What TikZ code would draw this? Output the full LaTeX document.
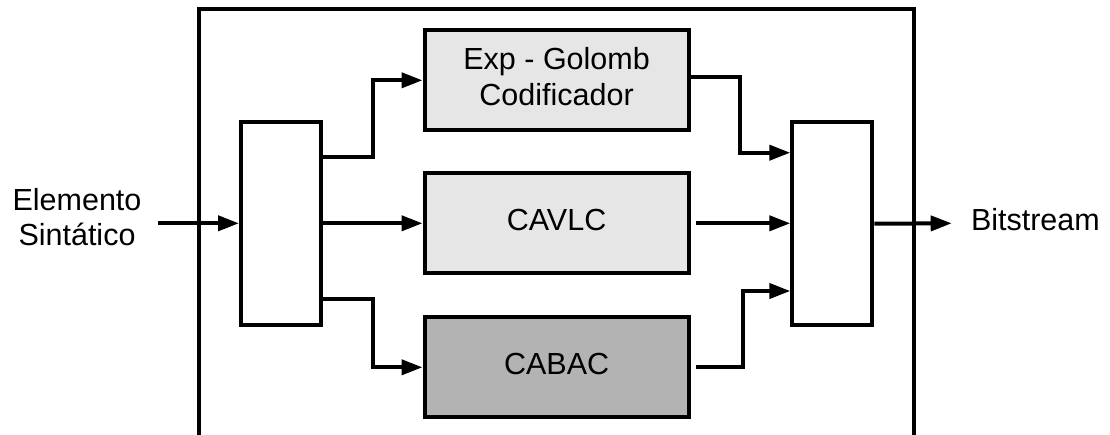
\documentclass[tikz,border=0pt]{standalone}
\usepackage{fontspec}
\setmainfont{Liberation Sans}
\usetikzlibrary{arrows.meta}

\definecolor{lightfill}{HTML}{E6E6E6}
\definecolor{darkfill}{HTML}{B3B3B3}

\begin{document}
\begin{tikzpicture}[x=1pt,y=-1pt,
  line width=4pt,
  txt/.style={font=\fontsize{30.5}{36.7}\selectfont, text depth=8pt, align=center, inner sep=0pt},
  oneline/.style={txt, text height=22pt},
  coder/.style={draw, minimum width=264.2pt, minimum height=100pt},
  muxbox/.style={draw, fill=white, minimum width=80pt, minimum height=203pt, inner sep=0pt},
  arr/.style={-{Triangle[length=21pt,width=15pt]}},
  frame/.style={draw, minimum width=714.4pt, minimum height=450.8pt, inner sep=0pt}
]
\useasboundingbox (0,0) rectangle (1110,434);
\clip (0,0) rectangle (1110,434);

% enclosing block (open at the bottom edge)
\node[frame] (frame) at (556.5,234.6) {};

% multiplexers
\node[muxbox] (muxin)  at (281,223.3) {};
\node[muxbox] (muxout) at (832.3,223.7) {};

% entropy coders
\node[coder, txt, fill=lightfill] (exp)   at (556.6,80.3)  {Exp - Golomb\\Codificador};
\node[coder, oneline, fill=lightfill] (cavlc) at (556.6,223.3) {CAVLC};
\node[coder, oneline, fill=darkfill]  (cabac) at (556.6,367.3) {CABAC};

% external labels
\node[txt, font=\fontsize{30.5}{35.3}\selectfont] (elem) at (77,221.2) {Elemento\\Sintático};
\node[oneline, anchor=west] (bits) at (969,223.3) {Bitstream};
\coordinate (src)  at (158.3,223.3);
\coordinate (sink) at (951.7,223.3);

% input and output
\draw[arr] (src) -- (muxin.west);
\draw[arr] (muxout.east) -- (sink);

% demultiplexer to coders
\draw[arr] ([yshift=66pt]muxin.east) -- ++(50,0) |- (exp.west);
\draw[arr] (muxin.east) -- (cavlc.west);
\draw[arr] ([yshift=-76pt]muxin.east) -- ++(50,0) |- (cabac.west);

% coders to multiplexer
\draw[arr] ([yshift=3pt]exp.east) -- ++(49.6,0) |- ([yshift=71pt]muxout.west);
\draw[arr, shorten <=5pt] (cavlc.east) -- (muxout.west |- cavlc.east);
\draw[arr, shorten <=5pt] (cabac.east) -- ++(52,0) |- ([yshift=-67.3pt]muxout.west);
\end{tikzpicture}
\end{document}
